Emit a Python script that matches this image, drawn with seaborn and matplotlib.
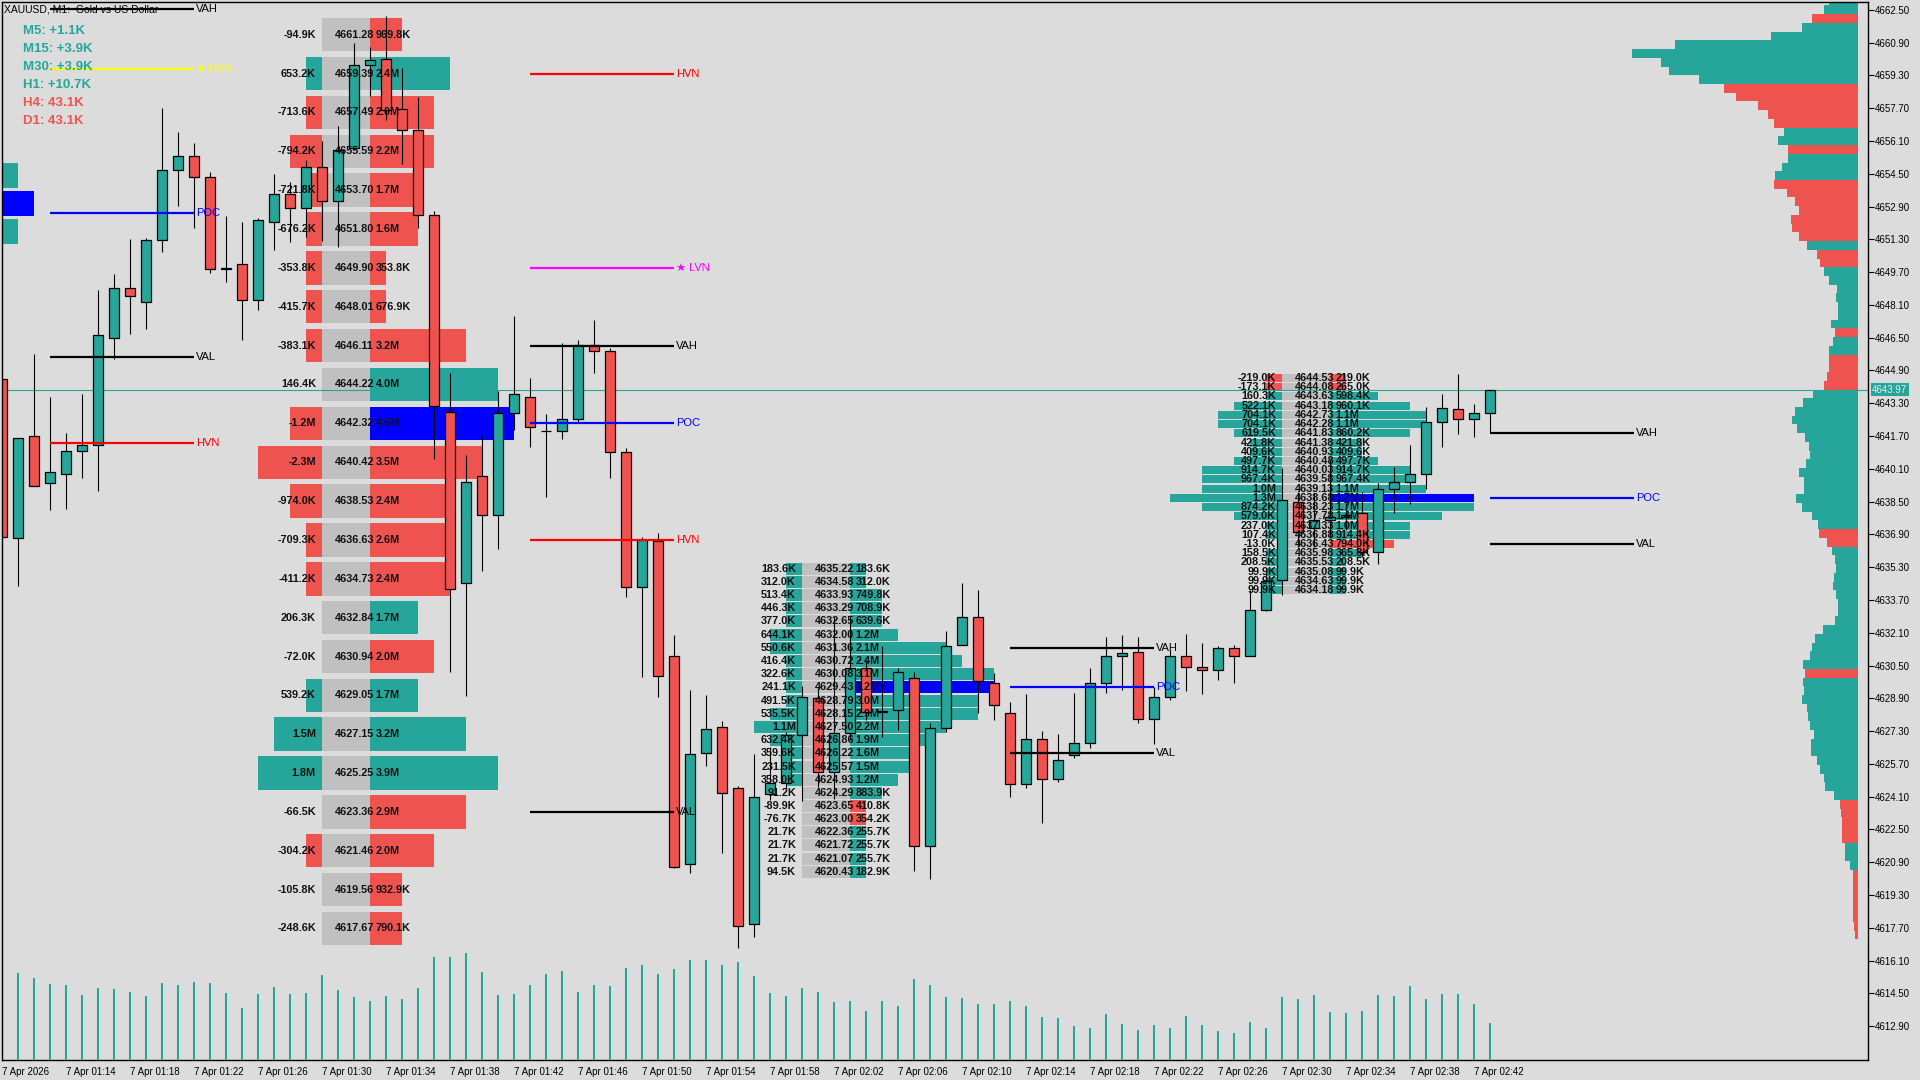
import matplotlib
matplotlib.use("Agg")
import matplotlib.pyplot as plt
import seaborn as sns
import numpy as np
import pandas as pd

TEAL = "#26A69A"
RED = "#EF5350"
BLUE = "#0000FF"
GRAY = "#C0C0C0"
BG = "#DCDCDC"

# ---------------- candles (M1, minutes after 7 Apr 01:10) ----------------
bar_minute = list(range(94))
opens = [4644.48, 4636.73, 4641.70, 4639.41, 4639.85, 4640.97, 4641.26, 4646.49, 4648.93, 4648.24,
         4651.27, 4654.68, 4655.37, 4654.34, 4649.90, 4650.10, 4648.34, 4652.15, 4653.51, 4652.83,
         4654.83, 4653.17, 4655.76, 4659.81, 4660.10, 4657.66, 4656.64, 4652.49, 4642.87, 4634.53,
         4639.75, 4637.85, 4642.83, 4643.61, 4641.95, 4641.95, 4642.53, 4646.14, 4645.85, 4640.92,
         4634.33, 4636.58, 4630.97, 4620.82, 4626.23, 4627.50, 4624.53, 4617.89, 4624.23, 4624.77,
         4627.11, 4628.92, 4625.31, 4627.21, 4630.38, 4628.28, 4628.33, 4629.89, 4621.70, 4627.45,
         4631.50, 4632.87, 4629.65, 4628.19, 4624.72, 4626.92, 4624.96, 4626.14, 4626.72, 4629.65,
         4630.97, 4631.16, 4627.89, 4628.97, 4630.97, 4630.43, 4630.28, 4631.36, 4630.97, 4633.21,
         4634.68, 4638.48, 4637.21, 4637.60, 4637.75, 4637.95, 4636.04, 4639.12, 4639.46, 4639.85,
         4642.39, 4643.02, 4642.53, 4642.83]
highs = [4644.48, 4641.61, 4645.70, 4643.61, 4641.85, 4643.75, 4648.83, 4649.61, 4651.32, 4651.37,
         4657.71, 4656.54, 4656.00, 4654.59, 4652.44, 4652.15, 4652.34, 4654.49, 4654.10, 4655.17,
         4656.10, 4656.83, 4660.88, 4660.69, 4662.20, 4659.66, 4658.25, 4652.68, 4644.78, 4640.78,
         4641.75, 4643.90, 4647.56, 4644.53, 4642.78, 4646.24, 4646.39, 4647.36, 4646.00, 4641.12,
         4636.77, 4636.97, 4631.99, 4629.31, 4629.06, 4627.79, 4624.60, 4626.18, 4626.53, 4627.26,
         4629.50, 4629.40, 4632.87, 4632.87, 4630.77, 4631.45, 4630.38, 4630.19, 4627.70, 4632.19,
         4634.53, 4634.19, 4630.14, 4628.72, 4629.11, 4627.31, 4627.16, 4629.16, 4630.38, 4631.89,
         4631.99, 4631.89, 4629.45, 4631.26, 4632.04, 4631.60, 4631.45, 4631.50, 4634.19, 4635.02,
         4640.14, 4638.97, 4638.92, 4640.53, 4638.43, 4638.97, 4639.41, 4640.19, 4641.26, 4643.12,
         4643.75, 4644.73, 4643.26, 4643.97]
lows = [4636.77, 4634.38, 4639.26, 4638.09, 4638.14, 4639.65, 4639.02, 4645.46, 4646.68, 4646.92,
        4650.68, 4652.93, 4651.85, 4649.66, 4649.22, 4646.39, 4647.85, 4650.78, 4651.17, 4651.41,
        4651.22, 4650.93, 4655.66, 4658.30, 4657.12, 4654.98, 4651.85, 4640.58, 4630.19, 4629.01,
        4635.12, 4636.19, 4642.00, 4641.17, 4638.73, 4641.56, 4642.34, 4644.78, 4639.65, 4633.85,
        4629.94, 4628.97, 4620.62, 4620.38, 4625.60, 4621.35, 4616.72, 4617.25, 4623.94, 4624.43,
        4623.89, 4624.57, 4623.99, 4626.87, 4627.84, 4627.01, 4627.36, 4620.47, 4620.08, 4627.26,
        4631.50, 4628.19, 4627.84, 4624.09, 4624.53, 4622.82, 4624.82, 4625.99, 4626.48, 4629.16,
        4629.31, 4627.70, 4626.67, 4628.82, 4629.26, 4629.11, 4629.80, 4629.65, 4630.97, 4633.16,
        4633.94, 4636.29, 4636.29, 4636.77, 4637.12, 4635.80, 4635.46, 4637.95, 4638.38, 4639.12,
        4641.17, 4641.80, 4641.65, 4641.85]
closes = [4636.77, 4641.61, 4639.26, 4639.95, 4640.97, 4641.26, 4646.63, 4648.93, 4648.54, 4651.27,
          4654.68, 4655.37, 4654.34, 4649.85, 4649.85, 4648.34, 4652.24, 4653.51, 4652.83, 4654.83,
          4653.17, 4655.66, 4659.81, 4660.05, 4657.61, 4656.64, 4652.49, 4643.17, 4634.24, 4639.46,
          4637.85, 4642.83, 4643.75, 4642.14, 4641.93, 4642.53, 4646.14, 4645.85, 4640.92, 4634.33,
          4636.63, 4629.99, 4620.67, 4626.18, 4627.40, 4624.28, 4617.79, 4624.09, 4624.77, 4627.11,
          4628.97, 4625.31, 4627.21, 4630.38, 4628.23, 4628.23, 4630.19, 4621.70, 4627.45, 4631.45,
          4632.87, 4629.75, 4628.58, 4624.72, 4626.92, 4624.96, 4625.89, 4626.72, 4629.65, 4630.97,
          4631.11, 4627.89, 4628.97, 4630.97, 4630.43, 4630.28, 4631.36, 4630.97, 4633.21, 4634.63,
          4638.58, 4637.02, 4637.60, 4637.75, 4637.85, 4636.04, 4639.12, 4639.46, 4639.85, 4642.39,
          4643.07, 4642.53, 4642.83, 4643.97]
tick_volume = [0, 870, 820, 760, 750, 650, 720, 710, 680, 640, 770, 750, 780, 770, 670, 520, 660, 730, 660, 670,
               850, 700, 630, 590, 640, 610, 720, 1030, 1030, 1070, 880, 650, 660, 750, 860, 890, 680, 750, 740,
               920, 950, 860, 910, 1000, 1000, 950, 980, 840, 670, 640, 720, 680, 580, 590, 490, 590, 540, 810,
               750, 630, 620, 560, 560, 590, 540, 430, 420, 340, 320, 460, 360, 300, 350, 320, 440, 350, 290,
               270, 380, 320, 630, 610, 650, 480, 470, 490, 650, 640, 740, 610, 660, 660, 560, 370]
last_price = 4643.97

time_tick_minutes = list(range(0, 93, 4))
time_tick_labels = ["7 Apr 2026", "7 Apr 01:14", "7 Apr 01:18", "7 Apr 01:22", "7 Apr 01:26", "7 Apr 01:30",
                    "7 Apr 01:34", "7 Apr 01:38", "7 Apr 01:42", "7 Apr 01:46", "7 Apr 01:50", "7 Apr 01:54",
                    "7 Apr 01:58", "7 Apr 02:02", "7 Apr 02:06", "7 Apr 02:10", "7 Apr 02:14", "7 Apr 02:18",
                    "7 Apr 02:22", "7 Apr 02:26", "7 Apr 02:30", "7 Apr 02:34", "7 Apr 02:38", "7 Apr 02:42"]
price_ticks = [4662.50, 4660.90, 4659.30, 4657.70, 4656.10, 4654.50, 4652.90, 4651.30, 4649.70, 4648.10,
               4646.50, 4644.90, 4643.30, 4641.70, 4640.10, 4638.50, 4636.90, 4635.30, 4633.70, 4632.10,
               4630.50, 4628.90, 4627.30, 4625.70, 4624.10, 4622.50, 4620.90, 4619.30, 4617.70, 4616.10,
               4614.50, 4612.90]

# ---------------- session volume profiles ----------------
prof0_price = [4654.42, 4653.05, 4651.68]
prof0_delta = [300e3, 350e3, 300e3]
prof0_vol = [2.1e6, 2.4e6, 2.1e6]
prof0_levels = [(4662.54, "VAH"), (4659.61, "HVN*"), (4652.59, "POC"), (4645.56, "VAL"), (4641.36, "HVN")]

profA_price = [4661.28, 4659.39, 4657.49, 4655.59, 4653.70, 4651.80, 4649.90, 4648.01, 4646.11, 4644.22,
               4642.32, 4640.42, 4638.53, 4636.63, 4634.73, 4632.84, 4630.94, 4629.05, 4627.15, 4625.25,
               4623.36, 4621.46, 4619.56, 4617.67]
profA_delta = [-94.9e3, 653.2e3, -713.6e3, -794.2e3, -721.8e3, -676.2e3, -353.8e3, -415.7e3, -383.1e3, 146.4e3,
               -1.2e6, -2.3e6, -974.0e3, -709.3e3, -411.2e3, 206.3e3, -72.0e3, 539.2e3, 1.5e6, 1.8e6,
               -66.5e3, -304.2e3, -105.8e3, -248.6e3]
profA_vol = [969.8e3, 2.4e6, 2.0e6, 2.2e6, 1.7e6, 1.6e6, 353.8e3, 676.9e3, 3.2e6, 4.0e6,
             4.6e6, 3.5e6, 2.4e6, 2.6e6, 2.4e6, 1.7e6, 2.0e6, 1.7e6, 3.2e6, 3.9e6,
             2.9e6, 2.0e6, 932.9e3, 790.1e3]
profA_levels = [(4659.39, "HVN"), (4649.90, "LVN"), (4646.11, "VAH"), (4642.32, "POC"),
                (4636.63, "HVN"), (4623.36, "VAL")]

profB_price = [4635.22, 4634.58, 4633.93, 4633.29, 4632.65, 4632.00, 4631.36, 4630.72, 4630.08, 4629.43,
               4628.79, 4628.15, 4627.50, 4626.86, 4626.22, 4625.57, 4624.93, 4624.29, 4623.65, 4623.00,
               4622.36, 4621.72, 4621.07, 4620.43]
profB_delta = [183.6e3, 312.0e3, 513.4e3, 446.3e3, 377.0e3, 644.1e3, 550.6e3, 416.4e3, 322.6e3, 241.1e3,
               491.5e3, 535.5e3, 1.1e6, 632.4e3, 359.6e3, 231.5e3, 358.0e3, 91.2e3, -89.9e3, -76.7e3,
               21.7e3, 21.7e3, 21.7e3, 94.5e3]
profB_vol = [183.6e3, 312.0e3, 749.8e3, 708.9e3, 639.6e3, 1.2e6, 2.1e6, 2.4e6, 3.1e6, 3.2e6,
             3.0e6, 2.9e6, 2.2e6, 1.9e6, 1.6e6, 1.5e6, 1.2e6, 883.9e3, 410.8e3, 354.2e3,
             255.7e3, 255.7e3, 255.7e3, 182.9e3]
profB_levels = [(4631.36, "VAH"), (4629.43, "POC"), (4626.22, "VAL")]

profC_price = [4644.53, 4644.08, 4643.63, 4643.18, 4642.73, 4642.28, 4641.83, 4641.38, 4640.93, 4640.48,
               4640.03, 4639.58, 4639.13, 4638.68, 4638.23, 4637.78, 4637.33, 4636.88, 4636.43, 4635.98,
               4635.53, 4635.08, 4634.63, 4634.18]
profC_delta = [-219.0e3, -173.1e3, 160.3e3, 522.1e3, 704.1e3, 704.1e3, 619.5e3, 421.8e3, 409.6e3, 497.7e3,
               914.7e3, 967.4e3, 1.0e6, 1.3e6, 874.2e3, 579.0e3, 237.0e3, 107.4e3, -13.0e3, 158.5e3,
               208.5e3, 99.9e3, 99.9e3, 99.9e3]
profC_vol = [219.0e3, 265.0e3, 598.4e3, 960.1e3, 1.1e6, 1.1e6, 860.2e3, 421.8e3, 409.6e3, 497.7e3,
             914.7e3, 967.4e3, 1.1e6, 1.7e6, 1.7e6, 1.4e6, 1.0e6, 914.4e3, 794.0e3, 365.8e3,
             208.5e3, 99.9e3, 99.9e3, 99.9e3]
profC_levels = [(4641.83, "VAH"), (4638.68, "POC"), (4636.43, "VAL")]

# right-edge day profile, top to bottom (+ buy dominant, - sell dominant)
day_profile = [29, 34, -46, 56, 87, 183, 226, 197, 189, 159, -134, -122, -100, -90, -84, 74, 80, -70, 70, 76,
               83, -84, -71, -63, -59, -67, -66, -59, 51, -41, -38, 34, 29, 21, 22, 20, 20, 27, -23, 25,
               29, -29, -29, -31, -34, 45, 55, 63, 66, 61, 53, 49, 48, 52, 59, 54, 54, 62, 56, 46,
               40, -39, -31, 26, 23, 22, 24, 25, 22, 20, 20, 23, 35, 43, 46, 48, 55, -53, 55, 54,
               56, 51, 50, 48, 44, 47, 47, 41, 38, 34, 33, 24, -18, -17, -16, -16, -16, 13, 13, 8,
               -5, -5, -5, -5, -5, -5, -4, -3]
day_profile_top = 4663.14
day_profile_step = 0.426

mtf_text = ["M5: +1.1K", "M15: +3.9K", "M30: +3.9K", "H1: +10.7K", "H4: 43.1K", "D1: 43.1K"]
mtf_color = [TEAL, TEAL, TEAL, TEAL, RED, RED]

# ---------------- figure ----------------
sns.set_theme(style="white")
plt.rcParams["font.family"] = ["Liberation Sans", "DejaVu Sans"]
plt.rcParams["axes.unicode_minus"] = False

fig = plt.figure(figsize=(19.2, 10.8), dpi=100, facecolor=BG)
ax = fig.add_axes([2 / 1920, 20 / 1080, 1866 / 1920, 1058 / 1080])
ax.set_facecolor(BG)

PF = dict(family=["Liberation Sans", "DejaVu Sans"], weight="bold", size=7.8)
LEVEL_STYLE = {"VAH": ("black", "VAH"), "VAL": ("black", "VAL"), "POC": (BLUE, "POC"),
               "HVN": ("#FF0000", "HVN"), "LVN": ("#FF00FF", "\u2605 LVN"), "HVN*": ("#FFFF00", "\u2605 HVN")}


def fmt(v):
    s = "-" if v < 0 else ""
    v = abs(v)
    return f"{s}{v / 1e6:.1f}M" if v >= 1e6 else f"{s}{v / 1e3:.1f}K"


def draw_profile(gray_left, prices, deltas, vols, row_h, levels, labels=True):
    prices = np.array(prices)
    deltas = np.array(deltas)
    vols = np.array(vols)
    unit = 9 / vols.max()
    cols = np.where(deltas > 0, TEAL, RED)
    vcols = cols.copy()
    vcols[np.argmax(vols)] = BLUE
    dw = np.round(np.abs(deltas) * unit)
    vw = np.maximum(1, np.round(vols * unit))
    kw = dict(height=row_h, linewidth=0, edgecolor="none", zorder=1)
    ax.barh(prices, 3, left=gray_left, color=GRAY, **kw)
    ax.barh(prices, dw, left=gray_left - dw, color=cols, **kw)
    ax.barh(prices, vw, left=gray_left + 3, color=vcols, **kw)
    if labels:
        for p, d, v in zip(prices, deltas, vols):
            ax.text(gray_left - 0.375, p, fmt(d), ha="right", va="center", color="#111111", zorder=5, **PF)
            ax.text(gray_left + 0.8, p, f"{p:.2f}", ha="left", va="center", color="#111111", zorder=5, **PF)
            ax.text(gray_left + 3.35, p, fmt(v), ha="left", va="center", color="#111111", zorder=5, **PF)
    for p, kind in levels:
        c, lab = LEVEL_STYLE[kind]
        ax.hlines(p, gray_left + 13, gray_left + 22, color=c, lw=1.6, zorder=4)
        ax.text(gray_left + 22.15, p, lab, ha="left", va="center", color=c, fontsize=8, zorder=5)


# day profile on the right edge
dp = np.array(day_profile, dtype=float)
dp_w = np.abs(dp) / np.abs(dp).max() * 14.1
dp_c = np.where(dp > 0, TEAL, RED)
dp_y = day_profile_top - (np.arange(len(dp)) + 0.5) * day_profile_step
ax.barh(dp_y, dp_w, left=116.0 - dp_w, height=day_profile_step, color=dp_c,
        linewidth=0, edgecolor="none", zorder=1)

draw_profile(-10, prof0_price, prof0_delta, prof0_vol, 1.22, prof0_levels, labels=False)
draw_profile(20, profA_price, profA_delta, profA_vol, 1.63, profA_levels)
draw_profile(50, profB_price, profB_delta, profB_vol, 0.585, profB_levels)
draw_profile(80, profC_price, profC_delta, profC_vol, 0.39, profC_levels)

ax.axhline(last_price, color=TEAL, lw=0.8, zorder=1.5)

# candles
df = pd.DataFrame({"minute": bar_minute, "open": opens, "high": highs, "low": lows,
                   "close": closes, "volume": tick_volume})
up = df["close"] >= df["open"]
ax.vlines(df["minute"], df["low"], df["high"], color="black", lw=0.8, zorder=2)
ax.bar(df["minute"], (df["close"] - df["open"]).abs().clip(lower=0.03),
       bottom=df[["open", "close"]].min(axis=1), width=0.64,
       color=np.where(up, TEAL, RED), edgecolor="black", linewidth=0.9, zorder=2.5)

ax.set_xlim(0, 116.625)
ax.set_ylim(4611.25, 4662.88)

# tick volumes
axv = ax.twinx()
sns.barplot(data=df, x="minute", y="volume", native_scale=True, width=0.13, color=TEAL,
            saturation=1, linewidth=0, ax=axv)
axv.set_ylim(0, 10580)
axv.set_xlim(0, 116.625)
axv.set_yticks([])
axv.set_ylabel("")
axv.set_xlabel("")
for s in axv.spines.values():
    s.set_visible(False)

# axes styling
ax.yaxis.tick_right()
ax.set_yticks(price_ticks)
ax.set_yticklabels([f"{t:.2f}" for t in price_ticks])
ax.set_xticks(time_tick_minutes)
ax.set_xticklabels(time_tick_labels, ha="left")
ax.tick_params(axis="y", direction="out", length=4, width=0.8, pad=1, labelsize=7, colors="black",
               left=False, right=True, labelleft=False, labelright=True)
ax.tick_params(axis="x", direction="out", length=4, width=0.8, pad=1, labelsize=7, colors="black")
ax.set_xlabel("")
ax.set_ylabel("")
for s in ax.spines.values():
    s.set_color("black")
    s.set_linewidth(1)

ax.annotate(f"{last_price:.2f}", xy=(1, last_price), xycoords=("axes fraction", "data"),
            xytext=(3, 0), textcoords="offset points", ha="left", va="center", fontsize=7,
            color="#EAEAEA", bbox=dict(boxstyle="square,pad=0.15", fc=TEAL, ec="none"),
            annotation_clip=False, zorder=6)

fig.text(4 / 1920, 1 - 9 / 1080, "XAUUSD, M1:  Gold vs US Dollar", fontsize=7.5, color="black",
         ha="left", va="center")
for i, (t, c) in enumerate(zip(mtf_text, mtf_color)):
    fig.text(23 / 1920, 1 - (31 + 18 * i) / 1080, t, fontsize=9.5, weight="bold", color=c,
             ha="left", va="center")

fig.savefig("out.png", dpi=100, facecolor=BG)
